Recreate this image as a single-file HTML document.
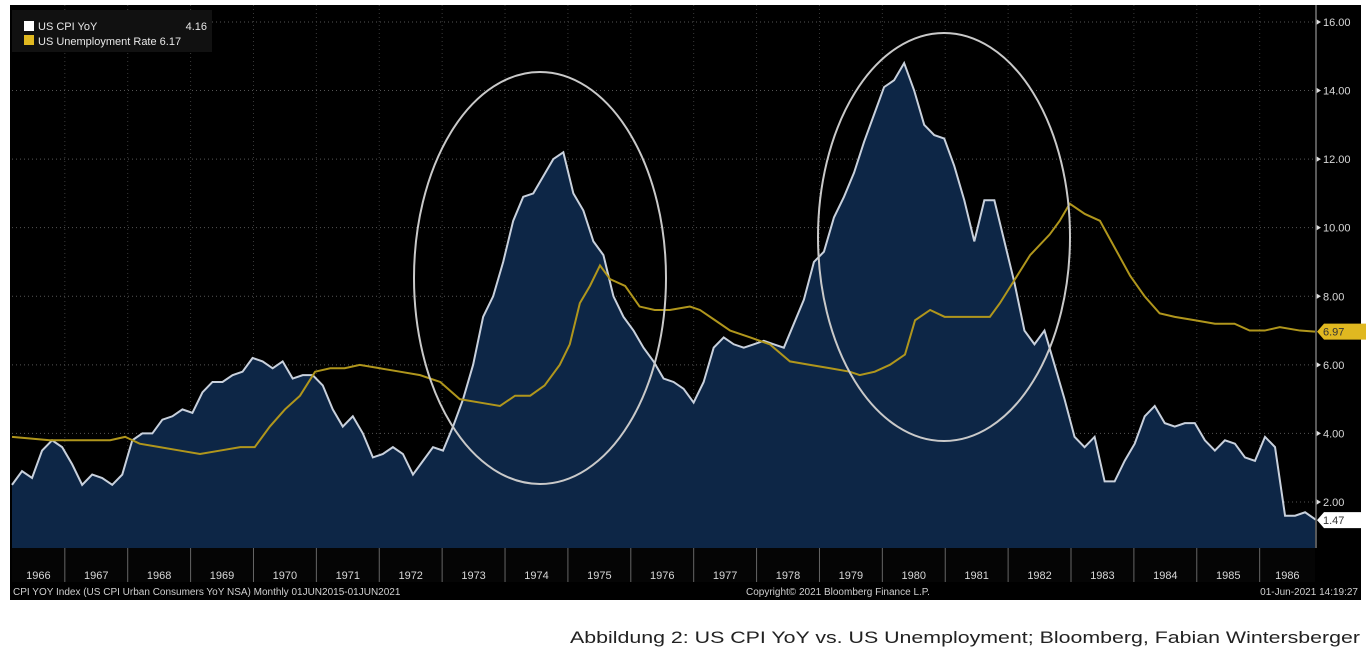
<!DOCTYPE html>
<html><head><meta charset="utf-8"><style>
html,body{margin:0;padding:0;background:#fff;width:1370px;height:658px;overflow:hidden}
svg{position:absolute;left:0;top:0}
text{font-family:"Liberation Sans",sans-serif}
</style></head><body>
<svg id="chart" width="1370" height="658">
  <rect x="10" y="5" width="1351" height="595" fill="#000"/>
  <rect x="12" y="548" width="1303" height="34" fill="#050505"/>
  <g id="grid"></g>
  <g id="series"></g>
  <g id="axes"></g>
  <ellipse cx="540" cy="278" rx="126" ry="206" fill="none" stroke="#c9c9c9" stroke-width="2"/>
  <ellipse cx="944" cy="237" rx="126" ry="204" fill="none" stroke="#c9c9c9" stroke-width="2"/>
  <g>
    <rect x="12" y="10" width="200" height="42" fill="#111"/>
    <rect x="24" y="21" width="10" height="10" fill="#fff"/>
    <text x="38" y="30" fill="#e8e8e8" font-size="11">US CPI YoY</text>
    <text x="207" y="30" fill="#e8e8e8" font-size="11" text-anchor="end">4.16</text>
    <rect x="24" y="35" width="10" height="10" fill="#e0b820"/>
    <text x="38" y="45" fill="#e8e8e8" font-size="11">US Unemployment Rate 6.17</text>
  </g>
  <text x="13" y="595" fill="#d0d0d0" font-size="10">CPI YOY Index (US CPI Urban Consumers YoY NSA)  Monthly 01JUN2015-01JUN2021</text>
  <text x="746" y="595" fill="#d0d0d0" font-size="10">Copyright© 2021 Bloomberg Finance L.P.</text>
  <text x="1358" y="595" fill="#d0d0d0" font-size="10" text-anchor="end">01-Jun-2021 14:19:27</text>
  <text x="570" y="643" fill="#222" font-size="17" textLength="790" lengthAdjust="spacingAndGlyphs">Abbildung 2: US CPI YoY vs. US Unemployment; Bloomberg, Fabian Wintersberger</text>
</svg>
<script>
const cpiStart = 1966.16;
const cpiStep = 0.1594;
const cpiValues = [2.5,2.9,2.7,3.5,3.8,3.6,3.1,2.5,2.8,2.7,2.5,2.8,3.8,4.0,4.0,4.4,4.5,4.7,4.6,5.2,5.5,5.5,5.7,5.8,6.2,6.1,5.9,6.1,5.6,5.7,5.7,5.4,4.7,4.2,4.5,4.0,3.3,3.4,3.6,3.4,2.8,3.2,3.6,3.5,4.2,5.0,6.0,7.4,8.0,9.0,10.2,10.9,11.0,11.5,12.0,12.2,11.0,10.5,9.6,9.2,8.0,7.4,7.0,6.5,6.1,5.6,5.5,5.3,4.9,5.5,6.5,6.8,6.6,6.5,6.6,6.7,6.6,6.5,7.2,7.9,9.0,9.3,10.3,10.9,11.6,12.5,13.3,14.1,14.3,14.8,14.0,13.0,12.7,12.6,11.8,10.8,9.6,10.8,10.8,9.6,8.4,7.0,6.6,7.0,6.0,5.0,3.9,3.6,3.9,2.6,2.6,3.2,3.7,4.5,4.8,4.3,4.2,4.3,4.3,3.8,3.5,3.8,3.7,3.3,3.2,3.9,3.6,1.6,1.6,1.7,1.5,1.47];
const unDates = [1966.16,1966.76,1967.24,1967.72,1967.96,1968.19,1968.51,1968.83,1969.15,1969.47,1969.79,1970.02,1970.26,1970.50,1970.74,1970.98,1971.22,1971.45,1971.69,1972.01,1972.33,1972.65,1972.97,1973.28,1973.60,1973.92,1974.16,1974.40,1974.63,1974.87,1975.03,1975.19,1975.35,1975.51,1975.67,1975.91,1976.14,1976.38,1976.62,1976.94,1977.10,1977.34,1977.58,1977.90,1978.21,1978.53,1978.85,1979.17,1979.48,1979.64,1979.88,1980.12,1980.36,1980.52,1980.76,1980.99,1981.23,1981.47,1981.71,1981.87,1982.11,1982.35,1982.66,1982.82,1982.98,1983.22,1983.46,1983.70,1983.94,1984.17,1984.41,1984.65,1984.97,1985.29,1985.60,1985.84,1986.08,1986.32,1986.64,1986.88];
const unValues = [3.9,3.8,3.8,3.8,3.9,3.7,3.6,3.5,3.4,3.5,3.6,3.6,4.2,4.7,5.1,5.8,5.9,5.9,6.0,5.9,5.8,5.7,5.5,5.0,4.9,4.8,5.1,5.1,5.4,6.0,6.6,7.8,8.3,8.9,8.5,8.3,7.7,7.6,7.6,7.7,7.6,7.3,7.0,6.8,6.6,6.1,6.0,5.9,5.8,5.7,5.8,6.0,6.3,7.3,7.6,7.4,7.4,7.4,7.4,7.8,8.5,9.2,9.8,10.2,10.7,10.4,10.2,9.4,8.6,8.0,7.5,7.4,7.3,7.2,7.2,7.0,7.0,7.1,7.0,6.97];
const yTicks = [2,4,6,8,10,12,14,16];
const yearLabels = [1966,1967,1968,1969,1970,1971,1972,1973,1974,1975,1976,1977,1978,1979,1980,1981,1982,1983,1984,1985,1986];
const lastCpiLabel = "1.47";
const lastUnLabel = "6.97";

const NS = "http://www.w3.org/2000/svg";
const X0 = 12, X1 = 1315, T0 = 1966.16, T1 = 1986.88;
const xs = t => X0 + (t - T0) / (T1 - T0) * (X1 - X0);
const ys = v => 502 - (v - 2) * 34.29;
function mk(tag, attrs, parent) {
  const e = document.createElementNS(NS, tag);
  for (const k in attrs) e.setAttribute(k, attrs[k]);
  parent.appendChild(e);
  return e;
}
const grid = document.getElementById('grid');
const series = document.getElementById('series');
const axes = document.getElementById('axes');

yTicks.forEach(v => {
  const l = mk('line', {x1: X0, x2: X1, y1: ys(v), y2: ys(v), stroke: '#555', 'stroke-width': 1, 'stroke-dasharray': '1,3'}, grid);
  
  
  const tk = mk('path', {d: `M${X1+1},${ys(v)-3} l5,3 l-5,3z`, fill: '#ddd'}, axes);
  
  
  const t = mk('text', {x: 1323, y: ys(v) + 4, fill: '#d8d8d8', 'font-size': 11}, axes);
  t.textContent = v.toFixed(2);
  
  
});
yearLabels.forEach(yr => {
  const b = xs(yr);
  if (b > X0 + 2) {
    const g = mk('line', {x1: b, x2: b, y1: 5, y2: 548, stroke: '#3a3a3a', 'stroke-width': 1, 'stroke-dasharray': '1,3'}, grid);
    
    
    const s = mk('line', {x1: b, x2: b, y1: 548, y2: 582, stroke: '#666', 'stroke-width': 1}, axes);
    
    
  }
  const c = (Math.max(xs(yr), X0) + Math.min(xs(yr + 1), X1)) / 2;
  const t = mk('text', {x: c, y: 579, fill: '#d8d8d8', 'font-size': 11, 'text-anchor': 'middle'}, axes);
  t.textContent = yr;
  
  
});

const cpiPts = cpiValues.map((v, i) => [Math.min(xs(cpiStart + i * cpiStep), X1), ys(v)]);
const lastX = cpiPts[cpiPts.length - 1][0];
const area = mk('path', {d: 'M' + cpiPts[0][0] + ',548 L' + cpiPts.map(p => p.join(',')).join(' L') + ' L' + lastX + ',548 Z', fill: '#0d2646'}, series);


const cpiLine = mk('polyline', {points: cpiPts.map(p => p.join(',')).join(' '), fill: 'none', stroke: '#c8d0dc', 'stroke-width': 2}, series);


const unPts = unValues.map((v, i) => [xs(unDates[i]), ys(v)]);
const unLine = mk('polyline', {points: unPts.map(p => p.join(',')).join(' '), fill: 'none', stroke: '#b0961c', 'stroke-width': 2}, series);



mk('line', {x1: X1 + 1, x2: X1 + 1, y1: 5, y2: 548, stroke: '#777', 'stroke-width': 1.5}, axes);
function tag(v, label, bg, fg, name) {
  const y = ys(v);
  const p = mk('path', {d: `M${X1+2},${y} l7,-8 h42 v16 h-42z`, fill: bg}, axes);
  
  
  const t = mk('text', {x: 1323, y: y + 4, fill: fg, 'font-size': 11}, axes);
  t.textContent = label;
  
  
}
tag(unValues[unValues.length - 1], lastUnLabel, '#e0b820', '#333', 'last-unemployment-label');
tag(cpiValues[cpiValues.length - 1], lastCpiLabel, '#fff', '#333', 'last-cpi-label');
</script>
</body></html>
